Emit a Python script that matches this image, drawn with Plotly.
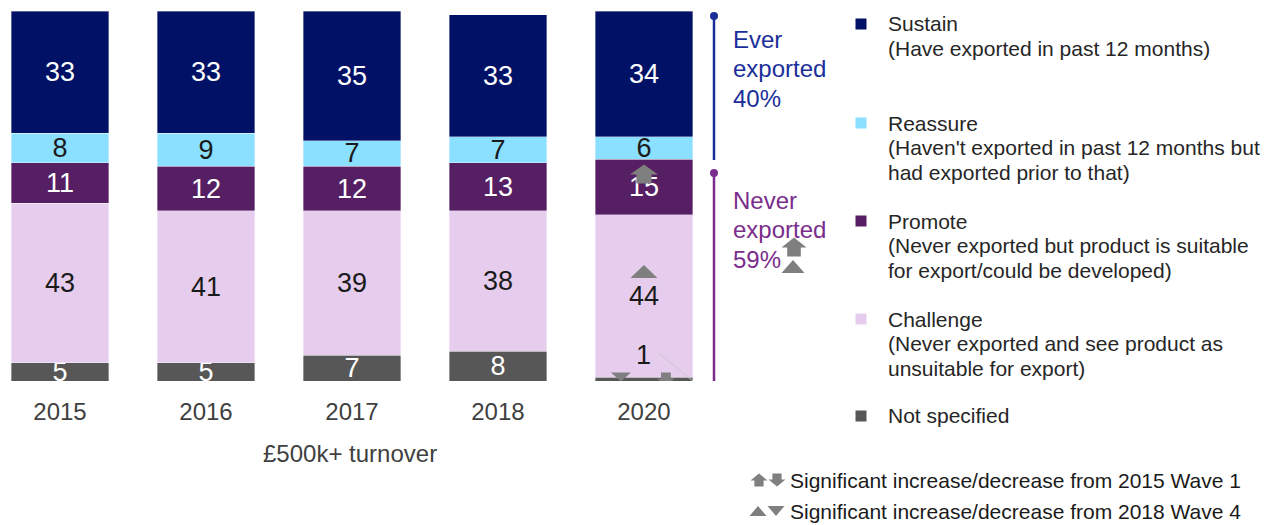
import plotly.graph_objects as go

# ---- data -------------------------------------------------------------
years = ["2015", "2016", "2017", "2018", "2020"]
not_specified = [5, 5, 7, 8, 1]
challenge = [43, 41, 39, 38, 44]
promote = [11, 12, 12, 13, 15]
reassure = [8, 9, 7, 7, 6]
sustain = [33, 33, 35, 33, 34]

segment_names = ["Not specified", "Challenge", "Promote", "Reassure", "Sustain"]
segment_values = [not_specified, challenge, promote, reassure, sustain]
segment_colors = ["#575757", "#E6CDEE", "#561F63", "#8BDFFF", "#001166"]
label_colors = ["#FFFFFF", "#1A1A1A", "#FFFFFF", "#1A1A1A", "#FFFFFF"]

ever_exported = 40
never_exported = 59

legend_lines = [
    ["Sustain", "(Have exported in past 12 months)"],
    ["Reassure", "(Haven't exported in past 12 months but", "had exported prior to that)"],
    ["Promote", "(Never exported but product is suitable", "for export/could be developed)"],
    ["Challenge", "(Never exported and see product as", "unsuitable for export)"],
    ["Not specified"],
]
legend_colors = ["#001166", "#8BDFFF", "#561F63", "#E6CDEE", "#575757"]

FONT = "Liberation Sans, Arial, sans-serif"
TXT = "#262626"
ICON = "#7F7F7F"

# ---- layout geometry (pixels) ----------------------------------------
W, H = 1279, 525
PLOT_LEFT, PLOT_W = 0, 700
PLOT_TOP, PLOT_H = 11, 370
PLOT_BOTTOM = PLOT_TOP + PLOT_H
PX_PER_UNIT = PLOT_H / 100


def px(xp):
    return (xp - PLOT_LEFT) / PLOT_W


def py(yp):
    return (PLOT_BOTTOM - yp) / PLOT_H


def dy(yp):
    return (PLOT_BOTTOM - yp) / PX_PER_UNIT


fig = go.Figure()

# stacked bars; the tiny 2020 "not specified" slice gets its label outside
for name, vals, col, tcol in zip(segment_names, segment_values, segment_colors, label_colors):
    texts = [str(v) for v in vals]
    if name == "Not specified":
        texts[-1] = ""
    fig.add_trace(go.Bar(
        x=years, y=vals, name=name,
        marker=dict(color=col, line=dict(width=0.6, color="rgba(255,255,255,0.6)")),
        text=texts, textposition="inside", insidetextanchor="middle", textangle=0,
        textfont=dict(color=tcol, size=27, family=FONT),
        width=0.67, showlegend=False, hoverinfo="skip",
    ))

annotations = []
shapes = []

# outside label for the 2020 "not specified" slice with leader line
last_ns = not_specified[-1]
annotations.append(dict(x=4, y=last_ns + 6, xref="x", yref="y", yanchor="middle", text=str(last_ns),
                        showarrow=False, font=dict(size=27, color="#1A1A1A", family=FONT)))
shapes.append(dict(type="line", xref="x", yref="y", x0=4.1, y0=last_ns + 6.6, x1=4.335, y1=0,
                   line=dict(color="#C8C8C8", width=1)))

# x-axis caption
annotations.append(dict(x=px(350), y=py(453), xref="paper", yref="paper", yanchor="middle",
                        text="£500k+ turnover", showarrow=False,
                        font=dict(size=24, color="#404040", family=FONT)))

# bracket lines for ever / never exported groups
BLUE = "#1A2E9A"
PURPLE = "#7A2D8C"
shapes.append(dict(type="line", xref="paper", yref="paper", x0=px(714), x1=px(714), y0=py(16), y1=py(160),
                   line=dict(color=BLUE, width=2.5)))
shapes.append(dict(type="circle", xref="paper", yref="paper", xsizemode="pixel", ysizemode="pixel",
                   xanchor=px(714), yanchor=py(16), x0=-4, x1=4, y0=-4, y1=4, fillcolor=BLUE, line=dict(width=0)))
shapes.append(dict(type="line", xref="paper", yref="paper", x0=px(714), x1=px(714), y0=py(173), y1=py(381),
                   line=dict(color=PURPLE, width=2.5)))
shapes.append(dict(type="circle", xref="paper", yref="paper", xsizemode="pixel", ysizemode="pixel",
                   xanchor=px(714), yanchor=py(173), x0=-4, x1=4, y0=-4, y1=4, fillcolor=PURPLE, line=dict(width=0)))


def text_line(xp, yp, text, size, color):
    annotations.append(dict(x=px(xp), y=py(yp), xref="paper", yref="paper", xanchor="left",
                            yanchor="middle", align="left", text=text, showarrow=False,
                            font=dict(size=size, color=color, family=FONT)))


for i, t in enumerate(["Ever", "exported", f"{ever_exported}%"]):
    text_line(731, 39 + 29.5 * i, t, 24, BLUE)
for i, t in enumerate(["Never", "exported", f"{never_exported}%"]):
    text_line(731, 200 + 29.5 * i, t, 24, PURPLE)

# custom legend
legend_y = [24, 123, 221, 319, 416]
for lines, col, ly in zip(legend_lines, legend_colors, legend_y):
    shapes.append(dict(type="rect", xref="paper", yref="paper", xsizemode="pixel", ysizemode="pixel",
                       xanchor=px(861), yanchor=py(ly), x0=-5.5, x1=5.5, y0=-5.5, y1=5.5,
                       fillcolor=col, line=dict(width=0)))
    for j, t in enumerate(lines):
        text_line(886, ly + 24.5 * j, t, 21, TXT)


# significance icons
def block_arrow(xref, yref, x, y, up=True, w=26, h=19):
    s = 1 if up else -1
    hw, sw = w / 2, w * 0.27
    top, mid, bot = h / 2, -h * 0.03, -h / 2
    pts = [(-sw, bot), (sw, bot), (sw, mid), (hw, mid), (0, top), (-hw, mid), (-sw, mid)]
    path = "M " + " L ".join(f"{a:.1f} {s * b:.1f}" for a, b in pts) + " Z"
    return dict(type="path", xref=xref, yref=yref, xsizemode="pixel", ysizemode="pixel",
                xanchor=x, yanchor=y, path=path, fillcolor=ICON, line=dict(width=0))


def triangle(xref, yref, x, y, up=True, w=27, h=13):
    s = 1 if up else -1
    path = f"M {-w / 2:.1f} {-s * h / 2:.1f} L {w / 2:.1f} {-s * h / 2:.1f} L 0 {s * h / 2:.1f} Z"
    return dict(type="path", xref=xref, yref=yref, xsizemode="pixel", ysizemode="pixel",
                xanchor=x, yanchor=y, path=path, fillcolor=ICON, line=dict(width=0))


# 2020 bar markers
shapes.append(block_arrow("x", "y", 4, dy(174), up=True, w=28, h=19))
shapes.append(triangle("x", "y", 4, dy(271.5), up=True, w=27, h=13))
shapes.append(triangle("x", "y", 4 - 23 / 146, dy(377), up=False, w=20, h=9))
shapes.append(block_arrow("x", "y", 4 + 22 / 146, dy(379), up=False, w=18, h=13))

# never-exported total markers
shapes.append(block_arrow("paper", "paper", px(794), py(247), up=True, w=25, h=19))
shapes.append(triangle("paper", "paper", px(793), py(266.5), up=True, w=23, h=13))

# key to the markers
shapes.append(block_arrow("paper", "paper", px(759), py(480), up=True, w=17, h=13))
shapes.append(block_arrow("paper", "paper", px(777), py(480), up=False, w=17, h=13))
shapes.append(triangle("paper", "paper", px(758), py(511), up=True, w=17, h=10))
shapes.append(triangle("paper", "paper", px(776), py(511), up=False, w=17, h=10))
text_line(788, 480, "Significant increase/decrease from 2015 Wave 1", 21, "#1A1A1A")
text_line(788, 511, "Significant increase/decrease from 2018 Wave 4", 21, "#1A1A1A")

fig.update_layout(
    barmode="stack",
    width=W, height=H,
    margin=dict(l=PLOT_LEFT, r=W - PLOT_LEFT - PLOT_W, t=PLOT_TOP, b=H - PLOT_BOTTOM, pad=0),
    paper_bgcolor="white", plot_bgcolor="white",
    font=dict(family=FONT, color=TXT),
    uniformtext=dict(minsize=27, mode="show"),
    xaxis=dict(type="category", range=[-0.411, 4.384], showgrid=False, showline=False, zeroline=False,
               ticks="", ticklabelstandoff=14, tickfont=dict(size=24, color="#404040", family=FONT)),
    yaxis=dict(range=[0, 100], visible=False, showgrid=False, zeroline=False),
    annotations=annotations,
    shapes=shapes,
)

fig.write_html("out.html")
